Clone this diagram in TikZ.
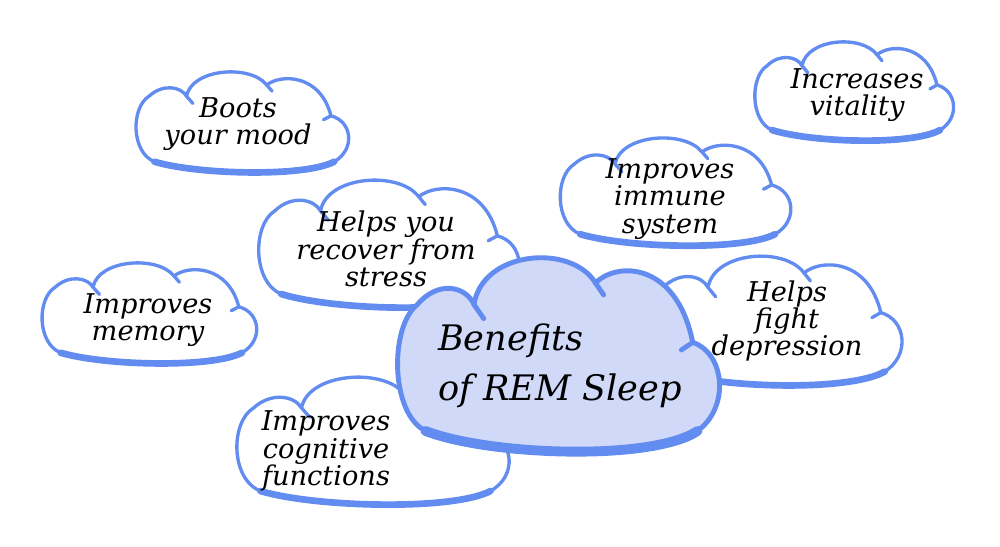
\documentclass[tikz,border=0pt]{standalone}
\usepackage{fontspec}
\setmainfont{DejaVu Serif}
\usetikzlibrary{positioning}
\definecolor{cloudblue}{RGB}{98,140,240}
\definecolor{cloudfill}{RGB}{208,218,248}

% cloud: centre x, centre y, half width, half height, fill, line width
\newcommand{\cloud}[6]{%
  \begin{scope}[shift={(#1,#2)},xscale=#3,yscale=#4]
    \filldraw[fill=#5,draw=cloudblue,line width=#6,line join=round]
      (-0.80,0.62) .. controls (-1.02,0.45) and (-1.02,-0.35) .. (-0.85,-0.55)
      .. controls (-0.72,-0.78) and (-0.55,-0.72) .. (-0.50,-0.55)
      .. controls (-0.45,-1.05) and (0.10,-1.12) .. (0.25,-0.75)
      .. controls (0.38,-0.95) and (0.75,-0.95) .. (0.85,-0.20)
      .. controls (1.05,-0.10) and (1.08,0.40) .. (0.88,0.62)
      .. controls (0.60,0.90) and (-0.40,0.85) .. cycle;
    \draw[cloudblue,line width=#6,line cap=round]
      (-0.50,-0.55) -- (-0.44,-0.42) (0.25,-0.75) -- (0.30,-0.64)
      (0.85,-0.20) -- (0.78,-0.13);
    \draw[cloudblue,line width=2*#6,line cap=round]
      (0.88,0.62) .. controls (0.60,0.90) and (-0.40,0.85) .. (-0.80,0.62);
  \end{scope}}

\begin{document}
\begin{tikzpicture}[x=0.02cm,y=-0.02cm]
  \tikzstyle{txt}=[align=center,inner sep=0pt,font=\itshape\fontsize{15.5}{15.6}\selectfont]
  \tikzstyle{main}=[align=left,inner sep=0pt,font=\itshape\fontsize{20}{28.5}\selectfont]
  \useasboundingbox (0,0) rectangle (1000,547);

  % -- outer clouds --
  \cloud{240}{127}{107}{56}{white}{1.9pt}
  \cloud{852}{96}{100}{55}{white}{1.9pt}
  \cloud{673}{197}{116}{60}{white}{1.9pt}
  \cloud{386}{250}{131}{71}{white}{1.9pt}
  \cloud{147}{318}{108}{56}{white}{1.9pt}
  \cloud{772}{327}{128}{72}{white}{1.9pt}
  \cloud{370}{447}{137}{71}{white}{1.9pt}

  % -- centre cloud --
  \cloud{555}{364}{162}{108}{cloudfill}{2.8pt}

  % -- labels --
  \node[txt] (mood) at (238,124) {Boots\\your mood};
  \node[txt] (vitality) at (857,95) {Increases\\vitality};
  \node[txt] (immune) at (670,199) {Improves\\immune\\system};
  \node[txt] (stress) at (386,249) {Helps you\\recover from\\stress};
  \node[txt] (memory) at (148,320) {Improves\\memory};
  \node[txt] (depression) at (787,321) {Helps\\fight\\depression};
  \node[txt] (cognitive) at (326,451) {Improves\\cognitive\\functions};
  \node[main] (rem) at (560,366) {Benefits\\of REM Sleep};
\end{tikzpicture}
\end{document}
